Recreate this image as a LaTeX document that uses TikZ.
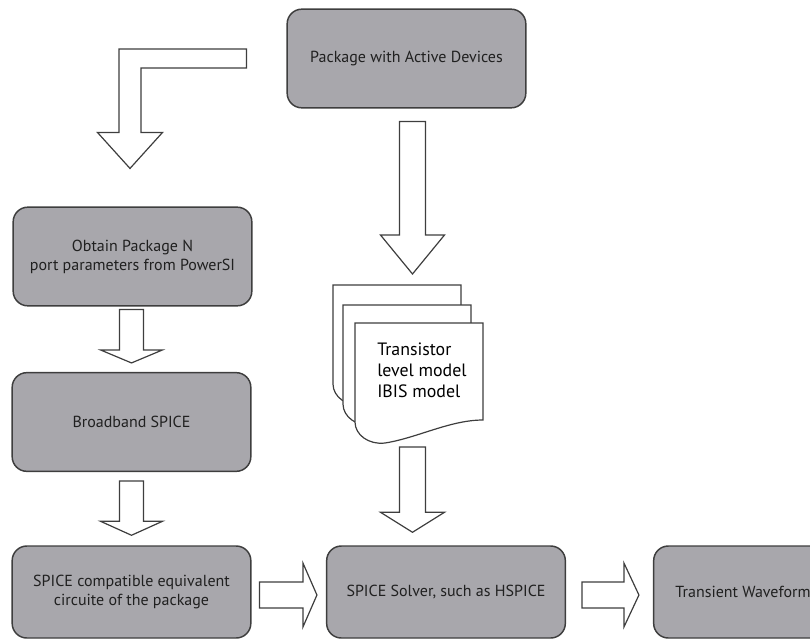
\documentclass[tikz,border=0pt]{standalone}
\usepackage{fontspec}
\setmainfont{PT Sans}
\usetikzlibrary{calc}
\definecolor{boxfill}{RGB}{168,167,172}
\definecolor{boxline}{RGB}{62,62,62}
\definecolor{inkgray}{RGB}{32,32,32}

% hollow block arrows: start, end, shaft, head, head length (px)
\newcommand{\fatdown}[5]{%
  \draw[fat] let \p1=#1, \p2=#2 in
    (\x1-#3*0.375,\y1) -- (\x1+#3*0.375,\y1) -- (\x1+#3*0.375,\y2+#5*0.75)
    -- (\x1+#4*0.375,\y2+#5*0.75) -- (\x1,\y2) -- (\x1-#4*0.375,\y2+#5*0.75)
    -- (\x1-#3*0.375,\y2+#5*0.75) -- cycle;}
\newcommand{\fatright}[5]{%
  \draw[fat] let \p1=#1, \p2=#2 in
    (\x1,\y1+#3*0.375) -- (\x2-#5*0.75,\y1+#3*0.375) -- (\x2-#5*0.75,\y1+#4*0.375)
    -- (\x2,\y1) -- (\x2-#5*0.75,\y1-#4*0.375) -- (\x2-#5*0.75,\y1-#3*0.375)
    -- (\x1,\y1-#3*0.375) -- cycle;}

\begin{document}
\begin{tikzpicture}[x=0.75pt, y=-0.75pt,
    stage/.style={draw=boxline, fill=boxfill, line width=1.1pt, rounded corners=11pt,
      minimum width=179pt, minimum height=74pt, inner sep=1pt, align=center,
      text=inkgray, font=\fontsize{12}{14.25}\selectfont},
    fat/.style={draw=boxline, fill=white, line width=0.9pt},
    sheet/.style={draw=boxline, fill=white, line width=0.9pt}]
  \clip (0,0) rectangle (810,640);

  % boxes
  \node[stage] (pkg) at (406.5,58.5) {Package with Active Devices};
  \node[stage] (obt) at (132.5,256.5) {Obtain Package N\\port parameters from PowerSI};
  \node[stage] (bband) at (131.5,422) {Broadband SPICE};
  \node[stage, minimum height=69pt] (equiv) at (131.5,592)
    {SPICE compatible equivalent\\circuite of the package};
  \node[stage, minimum height=69pt] (solver) at (446,592) {SPICE Solver, such as HSPICE};
  \node[stage, minimum height=69pt, minimum width=134pt] (trans) at (743,592) {Transient Waveform};

  % model sheets
  \foreach \sx/\sy in {333/285, 343/305, 355/323}
    \draw[sheet, shift={(\sx,\sy)}] (0,0) -- (128,0) -- (128,97)
      .. controls (95,97) and (62,115) .. (30,120)
      .. controls (14,122) and (0,112) .. (0,99) -- cycle;
  \node[anchor=north west, inner sep=0pt, align=left, text=black,
    font=\fontsize{13.4}{15.75}\selectfont] (model) at (377,343)
    {Transistor\\level model\\IBIS model};
  \coordinate (stacktop) at (412.5,285);
  \coordinate (stackbot) at (412.5,444);

  % arrows
  \draw[fat] let \p1=($(pkg.west)+(-40,0)$), \p2=($(obt.north)+(-2.5,-38)$) in
    (\x1,\y1+7.125) -- (\x2-8.25,\y1+7.125) -- (\x2-8.25,\y2+27) -- (\x2-24.4,\y2+27)
    -- (\x2,\y2) -- (\x2+24.4,\y2+27) -- (\x2+8.25,\y2+27) -- (\x2+8.25,\y1-7.125)
    -- (\x1,\y1-7.125) -- cycle;
  \fatdown{($(pkg.south)+(6,13)$)}{($(stacktop)+(0,-11)$)}{26}{64}{39}
  \fatdown{($(stackbot)+(0,3)$)}{($(solver.north)+(0,-13)$)}{26}{64}{20}
  \fatdown{($(obt.south)+(-1,3)$)}{($(bband.north)+(0,-9)$)}{24}{62}{13}
  \fatdown{($(bband.south)+(0,9)$)}{($(equiv.north)+(0,-10)$)}{24}{62}{14}
  \fatright{($(equiv.east)+(8,3)$)}{($(solver.west)+(-9,0)$)}{26}{64}{14}
  \fatright{($(solver.east)+(16,3)$)}{($(trans.west)+(-14,0)$)}{26}{64}{15}
\end{tikzpicture}
\end{document}
